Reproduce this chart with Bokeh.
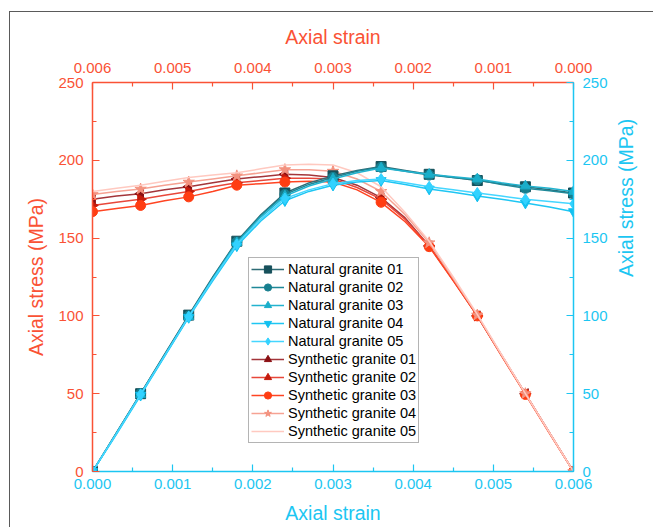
import math
from bokeh.plotting import figure
from bokeh.models import Range1d, LinearAxis, FixedTicker, PrintfTickFormatter, Legend, LegendItem
from bokeh.embed import file_html
from bokeh.resources import INLINE

# ---------------- data ----------------
strain = [0.0, 0.0003, 0.0006, 0.0009, 0.0012, 0.0015, 0.0018, 0.0021, 0.0024, 0.0027, 0.0030,
          0.0033, 0.0036, 0.0039, 0.0042, 0.0045, 0.0048, 0.0051, 0.0054, 0.0057, 0.0060]

natural_01 = [0, 25, 50, 75.5, 100.5, 125, 148, 165, 179, 185.5, 190, 193.5, 196, 193.5, 191, 189, 187, 185, 183, 181, 179]
natural_02 = [0, 25, 50, 75, 100, 124.5, 147.5, 164.5, 178, 184.5, 189, 193, 195.5, 193, 190.5, 189, 187.5, 184.5, 182, 180.5, 178.5]
natural_03 = [0, 24.5, 49.5, 74.5, 99.5, 124, 147, 163.5, 177, 183.5, 188, 192, 195, 193, 191, 189.5, 188, 185.5, 183.5, 182, 180]
natural_04 = [0, 24, 49, 74, 99, 122.5, 145, 161, 174, 180, 184, 186, 187, 184.5, 181.5, 179.5, 177, 175, 172.5, 170, 167]
natural_05 = [0, 24.5, 49.5, 74.5, 99.5, 123.5, 146, 162, 175.5, 181, 185, 187, 188, 185.5, 183, 181, 179, 177, 175, 173.5, 172]

synthetic_01 = [0, 25, 50, 75, 100, 123, 145, 163, 176, 184, 189, 190.5, 191, 189.5, 188, 185.5, 183, 181, 178.5, 177, 175]
synthetic_02 = [0, 25, 50, 75, 100, 123, 145, 162, 175, 182.5, 188, 188.5, 188.5, 187, 185.5, 183, 180, 177.5, 175, 173, 171]
synthetic_03 = [0, 24.5, 49.5, 74.5, 100, 122.5, 144.5, 160.5, 173, 181, 186, 186.5, 186, 185, 184, 180, 176.5, 174, 171, 169, 167]
synthetic_04 = [0, 25, 50, 75, 100.5, 124, 147, 165, 180, 188, 193, 194, 194, 192, 190, 188, 186, 184, 181.5, 180, 178]
synthetic_05 = [0, 25, 50, 75.5, 101, 125, 148, 166.5, 183, 192, 197, 197.5, 197, 194.5, 192, 190.5, 189, 186.5, 184, 182, 180]

x_ticks = [0.0, 0.001, 0.002, 0.003, 0.004, 0.005, 0.006]
x_minor = [0.0005, 0.0015, 0.0025, 0.0035, 0.0045, 0.0055]
y_ticks = [0, 50, 100, 150, 200, 250]
y_minor = [25, 75, 125, 175, 225]

natural_names = ["Natural granite 01", "Natural granite 02", "Natural granite 03",
                 "Natural granite 04", "Natural granite 05"]
synthetic_names = ["Synthetic granite 01", "Synthetic granite 02", "Synthetic granite 03",
                   "Synthetic granite 04", "Synthetic granite 05"]

# ---------------- styles ----------------
RED = "#fa5235"
CYAN = "#1cc6f2"
FONT = "Liberation Sans"

nat_line = ["#2f6c76", "#1f8898", "#22b3cf", "#1ec6f3", "#45d6ff"]
nat_mark = ["#16505b", "#177f8f", "#1aaeca", "#12c0f0", "#33d2ff"]
nat_marker = ["square", "circle", "triangle", "inverted_triangle", "diamond"]
nat_angle = [0, 0, 0, 0, 0]

syn_line = ["#a3353a", "#e8473a", "#ff4422", "#f6a293", "#ffc9c0"]
syn_mark = ["#8a0f12", "#c51b0c", "#ff3d12", "#f3927f", "#ffc1b6"]
syn_marker = ["triangle", "triangle", "circle", "star", "hexagon"]
syn_angle = [math.pi / 2, -math.pi / 2, 0, 0, 0]

p = figure(width=644, height=516, output_backend="svg", toolbar_location=None,
           x_range=Range1d(0, 0.006), y_range=Range1d(0, 250),
           min_border_left=82, min_border_right=81, min_border_top=70, min_border_bottom=57)
p.styles = {"margin-left": "9px", "margin-top": "11px",
            "border-left": "1px solid #5a5a5a", "border-top": "1px solid #5a5a5a"}
p.extra_x_ranges = {"top": Range1d(0.006, 0)}
p.xgrid.visible = False
p.ygrid.visible = False
p.outline_line_color = None
p.background_fill_color = "white"


def style_axis(ax, color, ticks, minor, fmt):
    ax.ticker = FixedTicker(ticks=ticks, minor_ticks=minor)
    ax.formatter = PrintfTickFormatter(format=fmt)
    ax.axis_line_color = color
    ax.axis_line_width = 1.5
    ax.major_tick_line_color = color
    ax.minor_tick_line_color = color
    ax.major_tick_line_width = 1.2
    ax.minor_tick_line_width = 1.2
    ax.major_tick_in = 7
    ax.major_tick_out = 0
    ax.minor_tick_in = 4
    ax.minor_tick_out = 0
    ax.major_label_text_color = color
    ax.major_label_text_font = FONT
    ax.major_label_text_font_size = "15px"
    ax.axis_label_text_color = color
    ax.axis_label_text_font = FONT
    ax.axis_label_text_font_size = "19.5px"
    ax.axis_label_text_font_style = "normal"


bottom = p.xaxis[0]
style_axis(bottom, CYAN, x_ticks, x_minor, "%.3f")
bottom.axis_label = "Axial strain"
bottom.major_label_standoff = 7
bottom.axis_label_standoff = 10

left = p.yaxis[0]
style_axis(left, RED, y_ticks, y_minor, "%d")
left.axis_label = "Axial stress (MPa)"
left.major_label_standoff = 9
left.axis_label_standoff = 8

top = LinearAxis(x_range_name="top")
style_axis(top, RED, x_ticks, x_minor, "%.3f")
top.axis_label = "Axial strain"
top.major_label_standoff = 10
top.axis_label_standoff = 12
p.add_layout(top, "above")

right = LinearAxis()
style_axis(right, CYAN, y_ticks, y_minor, "%d")
right.axis_label = "Axial stress (MPa)"
right.axis_label_orientation = math.pi / 2
right.major_label_standoff = 9
right.axis_label_standoff = 15
p.add_layout(right, "right")

mk_x = strain[::2]

syn_series = [synthetic_01, synthetic_02, synthetic_03, synthetic_04, synthetic_05]
nat_series = [natural_01, natural_02, natural_03, natural_04, natural_05]

syn_items = []
for i, ys in enumerate(syn_series):
    ln = p.line(strain, ys, x_range_name="top", line_color=syn_line[i], line_width=1.5)
    size = 12 if syn_marker[i] in ("star", "hexagon") else 10
    mk = p.scatter(mk_x, ys[::2], x_range_name="top", marker=syn_marker[i], angle=syn_angle[i],
                   size=size, fill_color=syn_mark[i], line_color=syn_mark[i])
    syn_items.append(LegendItem(label=synthetic_names[i], renderers=[ln, mk]))

nat_items = []
for i, ys in enumerate(nat_series):
    ln = p.line(strain, ys, line_color=nat_line[i], line_width=1.5)
    size = 11 if nat_marker[i] == "diamond" else 10
    mk = p.scatter(mk_x, ys[::2], marker=nat_marker[i], angle=nat_angle[i],
                   size=size, fill_color=nat_mark[i], line_color=nat_mark[i])
    nat_items.append(LegendItem(label=natural_names[i], renderers=[ln, mk]))

legend = Legend(items=nat_items + syn_items, location=(156, 28))
legend.label_text_font = FONT
legend.label_text_font_size = "14.5px"
legend.label_text_color = "black"
legend.glyph_width = 33
legend.glyph_height = 18
legend.label_height = 18
legend.label_standoff = 4
legend.spacing = 0
legend.padding = 2
legend.margin = 0
legend.border_line_color = "#6a6a6a"
legend.border_line_width = 1.2
legend.background_fill_color = "white"
legend.background_fill_alpha = 1
p.add_layout(legend, "center")

open("out.html", "w").write(file_html(p, INLINE))
